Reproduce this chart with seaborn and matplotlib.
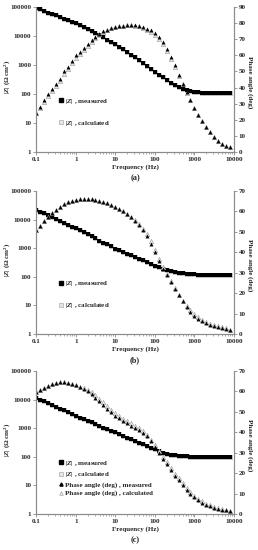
import matplotlib
matplotlib.use("Agg")
import matplotlib.pyplot as plt
from matplotlib.lines import Line2D
from matplotlib.ticker import FixedLocator, NullLocator
import seaborn as sns
import pandas as pd

# частоты, Гц (10 точек на декаду)
freq = [0.1, 0.126, 0.158, 0.2, 0.251, 0.316, 0.398, 0.501, 0.631, 0.794,
        1, 1.26, 1.58, 2, 2.51, 3.16, 3.98, 5.01, 6.31, 7.94,
        10, 12.6, 15.8, 20, 25.1, 31.6, 39.8, 50.1, 63.1, 79.4,
        100, 126, 158, 200, 251, 316, 398, 501, 631, 794,
        1000, 1259, 1585, 1995, 2512, 3162, 3981, 5012, 6310, 7943]

# (a)
z_a = [93300, 83200, 74100, 64600, 57500, 51300, 45700, 39800, 35500, 31600,
       28200, 24500, 20900, 17800, 15100, 12900, 10700, 9120, 7590, 6310,
       5250, 4270, 3470, 2820, 2240, 1820, 1450, 1170, 933, 741,
       589, 468, 372, 295, 240, 200, 170, 148, 135, 126,
       120, 115, 112, 112, 110, 110, 110, 110, 110, 110]
ph_a = [24, 28, 32, 36, 39, 42, 45.5, 50, 53, 56.5,
        60, 62, 64.5, 67, 69.5, 71.5, 73.5, 75, 76, 77,
        77.5, 78, 78.5, 79, 79, 78.8, 78.3, 77.5, 76.5, 75.5,
        74, 71.5, 68.5, 64, 59, 54, 48, 42.5, 37, 32,
        27.5, 23, 19, 15.5, 12.5, 9.5, 7, 5, 3.8, 3]
ph_a_calc = [24, 27.5, 31, 35, 38, 41, 44, 48.5, 51.5, 55,
             58.5, 61, 63.5, 66, 68.5, 71, 73, 74.8, 76, 77,
             77.5, 78, 78.5, 78.8, 78.8, 78.5, 78, 77, 75.8, 74.5,
             72.8, 70.3, 67, 62.5, 57.8, 53, 47.3, 42, 36.8, 32,
             27.5, 23, 19, 15.5, 12.5, 9.5, 7, 5, 3.8, 3]

# (b)
z_b = [22400, 19100, 16600, 14100, 12000, 10500, 8910, 7590, 6610, 5620,
       4900, 4170, 3550, 3020, 2570, 2190, 1860, 1580, 1350, 1150,
       977, 851, 741, 646, 562, 490, 427, 372, 324, 282,
       245, 219, 195, 178, 162, 151, 141, 135, 129, 126,
       123, 120, 117, 117, 115, 115, 115, 115, 115, 115]
ph_b = [50.8, 53, 55.5, 57.3, 59, 60.6, 62, 63.4, 64.5, 65.3,
        65.8, 66.1, 66.3, 66.2, 66, 65.6, 65.1, 64.6, 63.9, 63,
        62.2, 61, 60, 58.8, 57.3, 55.5, 53.3, 50.8, 47.8, 44.2,
        40, 35.5, 32, 28.8, 25.6, 22, 19, 16, 13.4, 11,
        9, 7.4, 6.2, 5.2, 4.5, 3.8, 3.3, 2.8, 2.4, 2]
ph_b_calc = [50.8, 53, 55.5, 57.3, 59, 60.6, 62, 63.4, 64.5, 65.3,
             65.8, 66.1, 66.3, 66.2, 66, 65.6, 65.1, 64.6, 63.9, 63,
             62.2, 61, 60, 58.8, 57.3, 55.8, 53.8, 51.5, 48.8, 45.3,
             41.2, 36.5, 32.8, 29.3, 26, 22.3, 19.3, 16.4, 13.9, 11.6,
             9.7, 8.1, 6.9, 5.9, 5.1, 4.4, 3.8, 3.2, 2.7, 2.2]

# (c)
z_c = [11700, 10000, 8710, 7410, 6460, 5500, 4790, 4170, 3550, 3090,
       2690, 2340, 2040, 1820, 1580, 1380, 1200, 1050, 933, 813,
       708, 617, 537, 468, 407, 355, 309, 269, 234, 204,
       182, 158, 141, 129, 120, 115, 110, 107, 105, 102,
       102, 100, 100, 100, 100, 100, 100, 100, 100, 100]
ph_c = [59.5, 60.8, 61.8, 62.7, 63.4, 64, 64.4, 64.5, 64.3, 63.8,
        63, 62.2, 61.2, 60, 58.6, 57, 55.2, 53.4, 51.5, 49.8,
        48.2, 46.8, 45.5, 44.3, 43.2, 42.2, 41, 39.7, 38, 35.8,
        33, 30, 27, 24.4, 21.6, 18.8, 16.4, 14, 11.9, 9.8,
        8.1, 6.7, 5.5, 4.5, 3.7, 3, 2.5, 2.1, 1.8, 1.5]
ph_c_calc = [59.5, 60.8, 61.8, 62.7, 63.4, 64, 64.4, 64.5, 64.3, 63.8,
             63, 62.4, 61.6, 60.6, 59.5, 58, 56.4, 54.6, 52.7, 51,
             49.4, 48, 46.7, 45.5, 44.4, 43.3, 42.1, 40.6, 38.8, 36.4,
             33.6, 30.6, 27.8, 25.3, 22.6, 19.8, 17.4, 15, 12.9, 10.8,
             9, 7.5, 6.2, 5.1, 4.2, 3.4, 2.8, 2.3, 1.9, 1.6]

panels = [
    ("(a)", z_a, ph_a, ph_a_calc, 90),
    ("(b)", z_b, ph_b, ph_b_calc, 70),
    ("(c)", z_c, ph_c, ph_c_calc, 70),
]

sns.set_theme(style="ticks")
plt.rcParams["font.family"] = ["Liberation Serif", "DejaVu Serif"]
plt.rcParams["font.weight"] = "bold"
plt.rcParams["mathtext.fontset"] = "custom"
plt.rcParams["mathtext.it"] = "Liberation Serif:italic:bold"
plt.rcParams["mathtext.rm"] = "Liberation Serif:bold"

FS = 5
GREY = "#8c8c8c"
CALC_FACE = "#e6e6e6"
CALC_EDGE = "#9a9a9a"

fig = plt.figure(figsize=(2.58, 5.5), dpi=100)
boxes = [(0.140, 0.7236, 0.767, 0.2636),
         (0.140, 0.3927, 0.767, 0.2600),
         (0.140, 0.0655, 0.767, 0.2600)]


def draw_panel(box, tag, z, ph, ph_calc, ph_max, full_legend):
    df = pd.DataFrame({"freq": freq, "z": z, "ph": ph, "ph_calc": ph_calc})
    ax = fig.add_axes(box)
    ax2 = ax.twinx()

    # |Z|: расчётные под измеренными
    sns.scatterplot(data=df, x="freq", y="z", ax=ax, marker="s", s=7,
                    facecolor=CALC_FACE, edgecolor=CALC_EDGE, linewidth=0.4, legend=False)
    sns.scatterplot(data=df, x="freq", y="z", ax=ax, marker="s", s=6,
                    color="black", linewidth=0, legend=False)
    # фаза
    sns.scatterplot(data=df, x="freq", y="ph_calc", ax=ax2, marker="^", s=10,
                    facecolor=CALC_FACE, edgecolor=CALC_EDGE, linewidth=0.4, legend=False)
    sns.scatterplot(data=df, x="freq", y="ph", ax=ax2, marker="^", s=8,
                    color="black", linewidth=0, legend=False)

    ax.set_xscale("log")
    ax.set_yscale("log")
    ax.set_xlim(0.1, 10000)
    ax.set_ylim(1, 100000)
    ax2.set_ylim(0, ph_max)
    ax.xaxis.set_major_locator(FixedLocator([0.1, 1, 10, 100, 1000, 10000]))
    ax.set_xticklabels(["0.1", "1", "10", "100", "1000", "10000"])
    ax.yaxis.set_major_locator(FixedLocator([1, 10, 100, 1000, 10000, 100000]))
    ax.set_yticklabels(["1", "10", "100", "1000", "10000", "100000"])
    ax.yaxis.set_minor_locator(NullLocator())
    ax2.yaxis.set_major_locator(FixedLocator(list(range(0, ph_max + 1, 10))))

    for a in (ax, ax2):
        a.spines["top"].set_visible(False)
        for s in ("left", "bottom", "right"):
            a.spines[s].set_color(GREY)
            a.spines[s].set_linewidth(0.8)
        a.tick_params(axis="both", which="major", labelsize=FS, length=2, width=0.6,
                      color=GREY, pad=1.5)
        a.tick_params(axis="x", which="minor", length=1.2, width=0.5, color=GREY)
        for lab in a.get_xticklabels() + a.get_yticklabels():
            lab.set_fontweight("bold")
    ax.set_xlabel("Frequency (Hz)", fontsize=FS, fontweight="bold", labelpad=2)
    ax.set_ylabel("|$\\mathit{Z}$| (\u03a9 cm$^{2}$)", fontsize=FS, fontweight="bold",
                  va="center")
    ax.yaxis.set_label_coords(-0.148, 0.52)
    ax2.set_ylabel("Phase angle (deg)", fontsize=FS, fontweight="bold", rotation=270,
                   va="center")
    ax2.yaxis.set_label_coords(1.08, 0.48)
    ax2.set_xlabel("")

    h_meas = Line2D([], [], marker="s", ls="", color="black", markersize=2.3)
    h_calc = Line2D([], [], marker="s", ls="", markerfacecolor=CALC_FACE,
                    markeredgecolor=CALC_EDGE, markeredgewidth=0.4, markersize=2.5)
    handles = [h_meas, h_calc]
    labels = ["|$\\mathit{Z}$| , measured", "|$\\mathit{Z}$| , calculated"]
    if full_legend:
        handles += [Line2D([], [], marker="^", ls="", color="black", markersize=2.3),
                    Line2D([], [], marker="^", ls="", markerfacecolor=CALC_FACE,
                           markeredgecolor=CALC_EDGE, markeredgewidth=0.4, markersize=2.7)]
        labels += ["Phase angle (deg) , measured", "Phase angle (deg) , calculated"]
        spacing, anchor = 0.35, (0.115, 0.255)
    else:
        spacing, anchor = 1.9, (0.115, 0.275)
    leg = ax2.legend(handles, labels, loc="center left", bbox_to_anchor=anchor,
                     frameon=False, fontsize=FS, handlelength=0.6, handletextpad=0.3,
                     labelspacing=spacing, borderaxespad=0, borderpad=0)
    for t in leg.get_texts():
        t.set_fontweight("bold")

    x0, y0, w, h = box
    fig.text(x0 + w / 2, y0 - 0.048, tag, ha="center", va="center",
             fontsize=6, fontweight="bold")


for i, (tag, z, ph, ph_calc, ph_max) in enumerate(panels):
    draw_panel(boxes[i], tag, z, ph, ph_calc, ph_max, full_legend=(i == 2))

fig.savefig("out.png", dpi=100)
plt.close(fig)
